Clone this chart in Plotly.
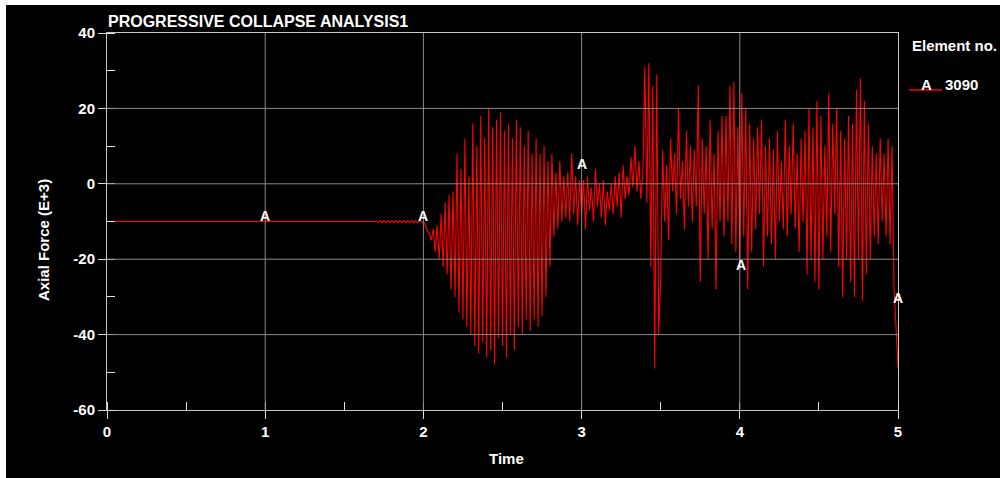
import plotly.graph_objects as go

# ---------------- data ----------------
W, H = 1000, 478
title_text = "PROGRESSIVE COLLAPSE ANALYSIS1"
x_title = "Time"
y_title = "Axial Force (E+3)"
legend_title = "Element no."
series_symbol = "A"
series_name = "3090"

# initial static state
t_start = [0.0]
f_start = [-10.0]

# dense sampled response, starting at t = 1.7, sample step 0.0125 (8 samples per 0.1 s)
dense_t0 = 1.7
dense_dt = 0.0125
f_dense_rows = [
    [-10.0, -10.3, -9.8, -10.3, -9.8, -10.3, -9.8, -10.3],   # 1.7
    [-9.8, -10.3, -9.8, -10.3, -9.8, -10.3, -9.8, -10.3],    # 1.8
    [-9.8, -10.3, -9.8, -10.3, -9.8, -10.3, -9.8, -10.2],    # 1.9
    [-10.0, -11.0, -12.5, -13.0, -15.0, -12.0, -18.0, -11.0],  # 2.0
    [-20.0, -8.0, -22.0, -5.0, -24.0, -3.0, -28.0, -2.0],    # 2.1
    [-30.0, 8.0, -34.0, 4.0, -36.0, 12.0, -38.0, 2.0],       # 2.2
    [-40.0, 16.0, -43.0, 10.0, -45.0, 18.0, -42.0, 12.0],    # 2.3
    [-46.0, 20.0, -44.0, 15.0, -48.0, 17.0, -41.0, 19.0],    # 2.4
    [-43.0, 14.0, -46.0, 16.0, -40.0, 12.0, -44.0, 17.0],    # 2.5
    [-38.0, 15.0, -40.0, 10.0, -36.0, 14.0, -39.0, 8.0],     # 2.6
    [-36.0, 12.0, -38.0, 8.0, -35.0, 10.0, -30.0, 6.0],      # 2.7
    [-22.0, 8.0, -14.0, 3.0, -12.0, 6.0, -10.0, 2.0],        # 2.8
    [-9.0, 3.0, -10.0, 8.0, -8.0, 2.0, -11.0, 1.0],          # 2.9
    [-8.0, 1.0, -12.0, 2.0, -7.0, -1.0, -10.0, 4.0],         # 3.0
    [-6.0, 0.0, -9.0, 1.0, -11.0, -2.0, -7.0, 0.0],          # 3.1
    [-8.0, 2.0, -6.0, 3.0, -9.0, 5.0, -4.0, 2.0],            # 3.2
    [-3.0, 7.0, -1.0, 10.0, -2.0, 6.0, -4.0, 3.0],           # 3.3
    [31.0, -5.0, 32.0, -22.0, 26.0, -49.0, 29.0, -40.0],     # 3.4
    [-25.0, 9.0, -10.0, 5.0, -15.0, 12.0, -2.0, 8.0],        # 3.5
    [-8.0, 20.0, -4.0, 6.0, -12.0, 14.0, -6.0, 10.0],        # 3.6
    [-10.0, 9.0, -6.0, 26.0, -26.0, 12.0, -8.0, 10.0],       # 3.7
    [-20.0, 17.0, -12.0, 8.0, -28.0, 14.0, -10.0, 18.0],     # 3.8
    [-14.0, 18.0, -10.0, 26.0, -16.0, 27.0, -18.0, 15.0],    # 3.9
    [-22.0, 24.0, -14.0, 20.0, -28.0, 16.0, -18.0, 12.0],    # 4.0
    [-12.0, 15.0, -8.0, 17.0, -22.0, 10.0, -14.0, 12.0],     # 4.1
    [-16.0, 9.0, -20.0, 14.0, -10.0, 6.0, -12.0, 17.0],      # 4.2
    [-14.0, 10.0, -8.0, 16.0, -12.0, 8.0, -18.0, 12.0],      # 4.3
    [-10.0, 14.0, -24.0, 20.0, -20.0, 15.0, -26.0, 22.0],    # 4.4
    [-28.0, 18.0, -20.0, 10.0, -14.0, 24.0, -18.0, 16.0],    # 4.5
    [-8.0, 20.0, -22.0, 14.0, -30.0, 12.0, -20.0, 18.0],     # 4.6
    [-26.0, 16.0, -30.0, 25.0, -20.0, 28.0, -31.0, 22.0],    # 4.7
    [-24.0, 16.0, -20.0, 10.0, -14.0, 8.0, -16.0, 12.0],     # 4.8
    [-10.0, 8.0, -14.0, 12.0, -16.0, 10.0, -28.0, -38.0],    # 4.9
    [-49.0],                                                 # 5.0
]

# curve symbol labels ("A") positions
label_t = [1.0, 2.0, 3.0, 4.01, 5.0]
label_f = [-8.5, -8.6, 5.3, -21.5, -30.3]

x_ticks = [0, 1, 2, 3, 4, 5]
y_ticks = [-60, -40, -20, 0, 20, 40]
x_range = [0, 5]
y_range = [-60, 40]

# ---------------- build series ----------------
f_dense = [v for row in f_dense_rows for v in row]
t_dense = [round(dense_t0 + i * dense_dt, 5) for i in range(len(f_dense))]
t_all = t_start + t_dense
f_all = f_start + f_dense

# ---------------- layout geometry (pixels) ----------------
PL, PR, PT, PB = 107, 898, 33, 410
pw, ph = PR - PL, PB - PT


def px(x):
    return (x - PL) / pw


def py(y):
    return (PB - y) / ph


FONT = "Liberation Sans, Arial, sans-serif"
WHITE = "#ffffff"
GRID = "#8a8a8a"

fig = go.Figure()
fig.add_trace(go.Scatter(
    x=t_all, y=f_all, mode="lines",
    line=dict(color="#ff0000", width=1.1),
    showlegend=False, hoverinfo="skip",
))

axis_common = dict(
    showline=True, linecolor="#c8c8c8", linewidth=1, mirror=True,
    showgrid=False,
    zeroline=False,
    ticks="outside", ticklen=8, tickcolor="#d8d8d8", tickwidth=1,
    tickfont=dict(family=FONT, size=15, color=WHITE, weight="bold"),
)

fig.update_xaxes(
    range=x_range, tickvals=x_ticks, ticktext=[str(v) for v in x_ticks],
    minor=dict(ticks="inside", ticklen=8, tickcolor="#e0e0e0", dtick=0.5, tick0=0, showgrid=False),
    **axis_common,
)
fig.update_yaxes(
    range=y_range, tickvals=y_ticks, ticktext=[str(v) for v in y_ticks],
    minor=dict(ticks="inside", ticklen=8, tickcolor="#e0e0e0", dtick=10, tick0=0, showgrid=False),
    **axis_common,
)

annotations = [
    dict(text=title_text, x=px(106), y=py(21.5), xanchor="left", yanchor="middle",
         font=dict(family=FONT, size=16, color=WHITE, weight="bold")),
    dict(text=x_title, x=px(507), y=py(458.5), xanchor="center", yanchor="middle",
         font=dict(family=FONT, size=15, color=WHITE, weight="bold")),
    dict(text=y_title, x=px(43), y=py(240), xanchor="center", yanchor="middle", textangle=-90,
         font=dict(family=FONT, size=15, color=WHITE, weight="bold")),
    dict(text=legend_title, x=px(910), y=py(45.5), xanchor="left", yanchor="middle",
         font=dict(family=FONT, size=15, color=WHITE, weight="bold")),
    dict(text=series_symbol, x=px(926.5), y=py(84), xanchor="center", yanchor="middle",
         font=dict(family=FONT, size=15, color=WHITE, weight="bold")),
    dict(text=series_name, x=px(943), y=py(84), xanchor="left", yanchor="middle",
         font=dict(family=FONT, size=15, color=WHITE, weight="bold")),
]
for a in annotations:
    a.update(xref="paper", yref="paper", showarrow=False)

# curve symbol labels, placed in data coordinates
for t, f in zip(label_t, label_f):
    annotations.append(dict(
        text=series_symbol, x=t, y=f, xref="x", yref="y", showarrow=False,
        xanchor="center", yanchor="middle",
        font=dict(family=FONT, size=14, color=WHITE, weight="bold"),
    ))

shapes = [
    # white frame strips at top and left of the picture
    dict(type="rect", xref="paper", yref="paper", x0=px(0), x1=px(W), y0=py(5), y1=py(0),
         fillcolor=WHITE, line=dict(width=0), layer="above"),
    dict(type="rect", xref="paper", yref="paper", x0=px(0), x1=px(6), y0=py(H), y1=py(0),
         fillcolor=WHITE, line=dict(width=0), layer="above"),
    # legend sample line
    dict(type="line", xref="paper", yref="paper", x0=px(909), x1=px(942), y0=py(90), y1=py(90),
         line=dict(color="#ff0000", width=1.6), layer="above"),
]
# grid lines drawn over the curve (as in the reference)
for v in y_ticks:
    if y_range[0] < v < y_range[1]:
        shapes.append(dict(type="line", xref="paper", yref="y", x0=0, x1=1, y0=v, y1=v,
                           line=dict(color=GRID, width=1), layer="above"))
for v in x_ticks:
    if x_range[0] < v < x_range[1]:
        shapes.append(dict(type="line", xref="x", yref="paper", x0=v, x1=v, y0=0, y1=1,
                           line=dict(color=GRID, width=1), layer="above"))

fig.update_layout(
    width=W, height=H,
    margin=dict(l=PL, r=W - PR, t=PT, b=H - PB, pad=0),
    paper_bgcolor="#000000", plot_bgcolor="#000000",
    annotations=annotations, shapes=shapes,
    showlegend=False,
)

fig.write_html(
    "out.html",
    config={"displayModeBar": False},
    post_script="document.body.style.margin='0';document.body.style.padding='0';"
                "document.documentElement.style.background='#000';",
)
